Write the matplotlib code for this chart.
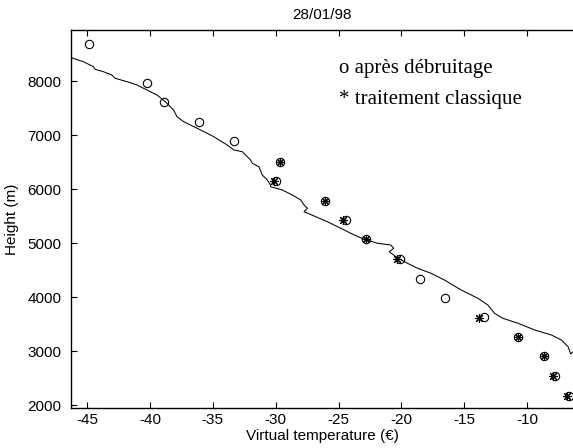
import matplotlib
matplotlib.use("Agg")
import matplotlib.pyplot as plt

# Profile (virtual temperature vs height)
profile_t = [-46.36, -45.30, -44.50, -44.36, -43.70, -43.03, -42.77, -41.83, -41.04,
             -40.24, -39.44, -38.78, -38.12, -37.85, -37.32, -36.25, -35.19, -34.93,
             -33.86, -33.33, -32.66, -32.00, -31.87, -31.34, -31.07, -30.67, -30.41,
             -30.41, -29.47, -28.68, -28.01, -27.75, -27.48, -27.75, -26.82, -25.89,
             -24.82, -24.56, -23.76, -22.97, -21.90, -20.84, -20.62, -20.97, -20.44,
             -19.78, -18.71, -17.65, -16.59, -15.25, -14.98, -13.92, -13.13, -12.60,
             -11.93, -10.73, -9.41, -8.08, -7.28, -6.75, -6.54, -6.35, -6.16]
profile_h = [8446, 8365, 8272, 8224, 8179, 8117, 8057, 7994, 7933,
             7840, 7747, 7623, 7469, 7345, 7252, 7130, 7006, 6974,
             6820, 6728, 6696, 6542, 6481, 6418, 6264, 6172, 6079,
             6047, 5986, 5893, 5801, 5708, 5647, 5584, 5491, 5398,
             5276, 5245, 5152, 5072, 4998, 4966, 4905, 4842, 4749,
             4657, 4534, 4442, 4318, 4132, 4101, 3978, 3854, 3700,
             3607, 3515, 3391, 3298, 3205, 3081, 2946, 2988, 2927]

# "o" : après débruitage
circ_t = [-44.87, -40.24, -38.88, -36.12, -33.30, -29.66, -29.95, -26.10, -24.45,
          -22.83, -20.12, -18.53, -16.51, -13.40, -10.71, -8.69, -7.76, -6.64]
circ_h = [8698, 7964, 7612, 7241, 6889, 6505, 6147, 5788, 5430,
          5072, 4712, 4336, 3978, 3626, 3261, 2903, 2532, 2172]

# "*" : traitement classique
star_t = [-29.66, -30.15, -26.10, -24.65, -22.83, -20.32, -13.82, -10.71, -8.69, -7.94, -6.86]
star_h = [6505, 6147, 5788, 5430, 5072, 4712, 3619, 3261, 2903, 2532, 2172]

title = "28/01/98"
xlabel = "Virtual temperature (€)"
ylabel = "Height (m)"
xticks = [-45, -40, -35, -30, -25, -20, -15, -10]
yticks = [2000, 3000, 4000, 5000, 6000, 7000, 8000]
legend_lines = ["o après débruitage", "* traitement classique"]

plt.rcParams['font.family'] = ['Liberation Sans', 'DejaVu Sans']
plt.rcParams['axes.unicode_minus'] = False
fig = plt.figure(figsize=(5.73, 4.48), dpi=100)
ax = fig.add_axes([71/573, 1 - 407.7/448, 1 - 71/573, (407.7 - 30)/448])

ax.plot(profile_t, profile_h, color='black', lw=0.75)
ax.plot(circ_t, circ_h, linestyle='none', marker='o', markersize=6,
        markerfacecolor='none', markeredgecolor='black', markeredgewidth=0.8)
ax.plot(star_t, star_h, linestyle='none', marker=(8, 2, 0), markersize=6.5,
        color='black', markeredgewidth=0.8)

ax.set_xlim(-46.28, -6.36)
ax.set_ylim(1950, 8952)
ax.set_xticks(xticks)
ax.set_yticks(yticks)
ax.tick_params(direction='in', length=4, width=0.8, labelsize=11,
               top=True, right=False, pad=4)
ax.tick_params(axis='y', pad=7)
ax.spines['right'].set_visible(False)
for s in ['left', 'bottom', 'top']:
    ax.spines[s].set_linewidth(1.0)

ax.set_title(title, fontsize=11, pad=8)
ax.set_xlabel(xlabel, fontsize=11, labelpad=1)
ax.set_ylabel(ylabel, fontsize=11, labelpad=6)

fig.text(339/573, 1 - 73/448, legend_lines[0], family='Liberation Serif',
         fontsize=15, va='baseline', ha='left')
fig.text(339/573, 1 - 104/448, legend_lines[1], family='Liberation Serif',
         fontsize=15, va='baseline', ha='left')

fig.savefig("out.png", dpi=100)
